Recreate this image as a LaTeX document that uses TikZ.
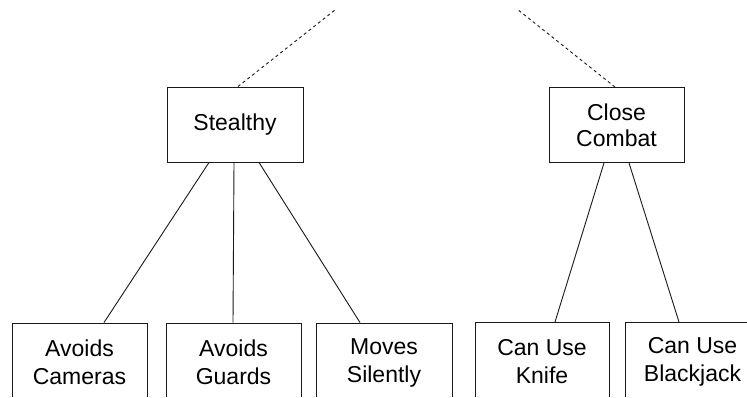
\documentclass[tikz,border=0pt]{standalone}
\usepackage{fontspec}
\setmainfont{Liberation Sans}
\begin{document}
\begin{tikzpicture}[x=1pt,y=1pt,
  box/.style={draw=black!90, line width=0.9pt, minimum width=135pt, minimum height=75pt,
    inner sep=0pt, align=center, font=\fontsize{23}{28}\selectfont},
  lowbox/.style={box, minimum height=79pt},
  link/.style={draw=black!90, line width=0.9pt},
  dlink/.style={link, dash pattern=on 3pt off 3pt}]
\useasboundingbox (0,0) rectangle (747,398);
\clip (0,1) rectangle (747,398);
\node[box, minimum width=136pt] (st) at (235,273.5) {Stealthy};
\node[box, font=\fontsize{23}{26}\selectfont] (cc) at (616.5,273) {Close\\Combat};
\node[lowbox] (cam) at (79.5,35.5) {Avoids\\Cameras};
\node[lowbox] (gua) at (233.5,35.5) {Avoids\\Guards};
\node[lowbox, minimum width=136pt] (mov) at (384,35.5) {Moves\\Silently};
\node[lowbox, minimum width=134pt] (kni) at (542,36) {Can Use\\Knife};
\node[lowbox] (bla) at (692.5,36) {Can Use\\Blackjack};
\coordinate (t1) at (335,388);
\coordinate (t2) at (517,389);
\draw[dlink] ([xshift=3pt]st.north) -- (t1);
\draw[dlink] ([xshift=-1.5pt]cc.north) -- (t2);
\draw[link] ([xshift=-26pt]st.south) -- ([xshift=24.5pt]cam.north);
\draw[link] ([xshift=-1pt]st.south) -- ([xshift=-0.5pt]gua.north);
\draw[link] ([xshift=24pt]st.south) -- ([xshift=-24pt]mov.north);
\draw[link] ([xshift=-12.5pt]cc.south) -- ([xshift=13pt]kni.north);
\draw[link] ([xshift=12.5pt]cc.south) -- ([xshift=-13.5pt]bla.north);
\end{tikzpicture}
\end{document}
